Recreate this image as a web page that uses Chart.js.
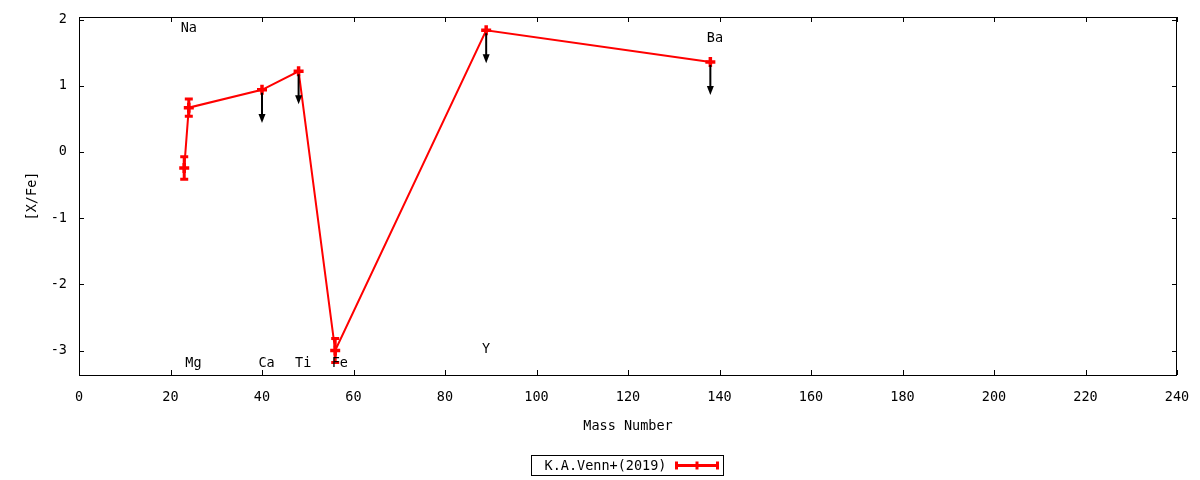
<!DOCTYPE html>
<html><head><meta charset="utf-8">
<script src="https://cdn.jsdelivr.net/npm/chart.js@4"></script>
<style>html,body{margin:0;padding:0;background:#fff}canvas{display:block}</style>
</head><body>
<canvas id="c" width="1200" height="480"></canvas>
<script>
// ---- data ----
const elements = ['Na','Mg','Ca','Ti','Fe','Y','Ba'];
const massNumbers = [23, 24, 40, 48, 56, 89, 138];
const abundances = [-0.24, 0.67, 0.94, 1.22, -3.00, 1.84, 1.36];
const errors = [0.17, 0.13, 0, 0, 0.18, 0, 0];
const upperLimits = [false, false, true, true, false, true, true];
const arrowLengths = [0, 0, 0.5, 0.5, 0, 0.5, 0.5];
const labelX = [24, 25, 41, 49, 57, 89, 139];
const labelY = [1.86, -3.20, -3.20, -3.20, -3.20, -2.99, 1.71];
const xTicks = [0, 20, 40, 60, 80, 100, 120, 140, 160, 180, 200, 220, 240];
const yTicks = [-3, -2, -1, 0, 1, 2];
const seriesName = 'K.A.Venn+(2019)';
const xTitle = 'Mass Number';
const yTitle = '[X/Fe]';

const FONT = {family: "'DejaVu Sans Mono', monospace", size: 13.5};
const RED = '#ff0000';

const extras = {
  id: 'extras',
  afterDatasetsDraw(chart) {
    const {ctx, chartArea: a, scales: {x, y}} = chart;
    ctx.save();
    // error bars
    ctx.strokeStyle = RED; ctx.lineWidth = 3; ctx.lineCap = 'butt';
    massNumbers.forEach((m, i) => {
      if (!errors[i]) return;
      const px = x.getPixelForValue(m);
      const y1 = y.getPixelForValue(abundances[i] - errors[i]);
      const y2 = y.getPixelForValue(abundances[i] + errors[i]);
      ctx.beginPath();
      ctx.moveTo(px, y1); ctx.lineTo(px, y2);
      ctx.moveTo(px - 4, y1); ctx.lineTo(px + 4, y1);
      ctx.moveTo(px - 4, y2); ctx.lineTo(px + 4, y2);
      ctx.stroke();
    });
    // upper-limit arrows
    ctx.strokeStyle = '#000'; ctx.fillStyle = '#000'; ctx.lineWidth = 2;
    massNumbers.forEach((m, i) => {
      if (!upperLimits[i]) return;
      const px = x.getPixelForValue(m);
      const y1 = y.getPixelForValue(abundances[i]) + 3;
      const y2 = y.getPixelForValue(abundances[i] - arrowLengths[i]);
      ctx.beginPath(); ctx.moveTo(px, y1); ctx.lineTo(px, y2 - 6); ctx.stroke();
      ctx.beginPath();
      ctx.moveTo(px, y2); ctx.lineTo(px - 3.5, y2 - 9); ctx.lineTo(px + 3.5, y2 - 9);
      ctx.closePath(); ctx.fill();
    });
    // element labels
    ctx.fillStyle = '#000';
    ctx.font = `${FONT.size}px ${FONT.family}`;
    ctx.textAlign = 'center'; ctx.textBaseline = 'middle';
    elements.forEach((e, i) => {
      ctx.fillText(e, x.getPixelForValue(labelX[i]), y.getPixelForValue(labelY[i]));
    });
    // border and inward ticks (mirrored)
    ctx.strokeStyle = '#000'; ctx.lineWidth = 1;
    ctx.strokeRect(Math.round(a.left) + 0.5, Math.round(a.top) + 0.5,
                   Math.round(a.right - a.left) - 1, Math.round(a.bottom - a.top));
    const tl = 5;
    ctx.beginPath();
    xTicks.forEach(v => {
      const px = Math.round(x.getPixelForValue(v)) + 0.5;
      ctx.moveTo(px, a.bottom); ctx.lineTo(px, a.bottom - tl);
      ctx.moveTo(px, a.top); ctx.lineTo(px, a.top + tl);
    });
    yTicks.forEach(v => {
      const py = Math.round(y.getPixelForValue(v)) + 0.5;
      ctx.moveTo(a.left, py); ctx.lineTo(a.left + tl, py);
      ctx.moveTo(a.right, py); ctx.lineTo(a.right - tl, py);
    });
    ctx.stroke();
    // legend
    const cx = (a.left + a.right) / 2;
    const bx = Math.round(cx - 97) + 0.5, by = 455.5, bw = 192, bh = 20;
    ctx.strokeRect(bx, by, bw, bh);
    ctx.textAlign = 'left';
    ctx.fillText(seriesName, bx + 13, by + bh / 2 + 0.5);
    const sx1 = bx + 145, sx2 = bx + 186, sy = by + bh / 2;
    ctx.strokeStyle = RED; ctx.lineWidth = 3;
    ctx.beginPath();
    ctx.moveTo(sx1, sy); ctx.lineTo(sx2, sy);
    ctx.moveTo(sx1, sy - 4); ctx.lineTo(sx1, sy + 4);
    ctx.moveTo(sx2, sy - 4); ctx.lineTo(sx2, sy + 4);
    ctx.moveTo((sx1 + sx2) / 2, sy - 4); ctx.lineTo((sx1 + sx2) / 2, sy + 4);
    ctx.stroke();
    ctx.restore();
  }
};

new Chart(document.getElementById('c'), {
  type: 'scatter',
  data: {
    datasets: [{
      label: seriesName,
      data: massNumbers.map((m, i) => ({x: m, y: abundances[i]})),
      showLine: true,
      borderColor: RED,
      backgroundColor: RED,
      borderWidth: 2,
      pointStyle: 'cross',
      pointRadius: 5,
      pointBorderWidth: 3.5,
      pointBorderColor: RED,
      tension: 0
    }]
  },
  options: {
    responsive: false,
    devicePixelRatio: 1,
    animation: false,
    layout: {padding: {top: 17, right: 23, left: 0, bottom: 0}},
    plugins: {legend: {display: false}, tooltip: {enabled: false}},
    scales: {
      x: {
        type: 'linear', min: 0, max: 240,
        afterBuildTicks: s => { s.ticks = xTicks.map(v => ({value: v})); },
        afterFit: s => { s.height = 105; s.paddingLeft = 0; s.paddingRight = 0; },
        grid: {display: false, drawTicks: false},
        border: {display: false},
        ticks: {font: FONT, color: '#000', padding: 14, maxRotation: 0, autoSkip: false},
        title: {display: true, text: xTitle, font: FONT, color: '#000', padding: {top: 0, bottom: 45}}
      },
      y: {
        type: 'linear', min: -3.37, max: 2.04,
        afterBuildTicks: s => { s.ticks = yTicks.map(v => ({value: v})); },
        afterFit: s => { s.width = 79; s.paddingTop = 0; s.paddingBottom = 0; },
        grid: {display: false, drawTicks: false},
        border: {display: false},
        ticks: {font: FONT, color: '#000', padding: 12, autoSkip: false},
        title: {display: true, text: yTitle, font: FONT, color: '#000', padding: {top: 24, bottom: 0}}
      }
    }
  },
  plugins: [extras]
});
</script>
</body></html>
